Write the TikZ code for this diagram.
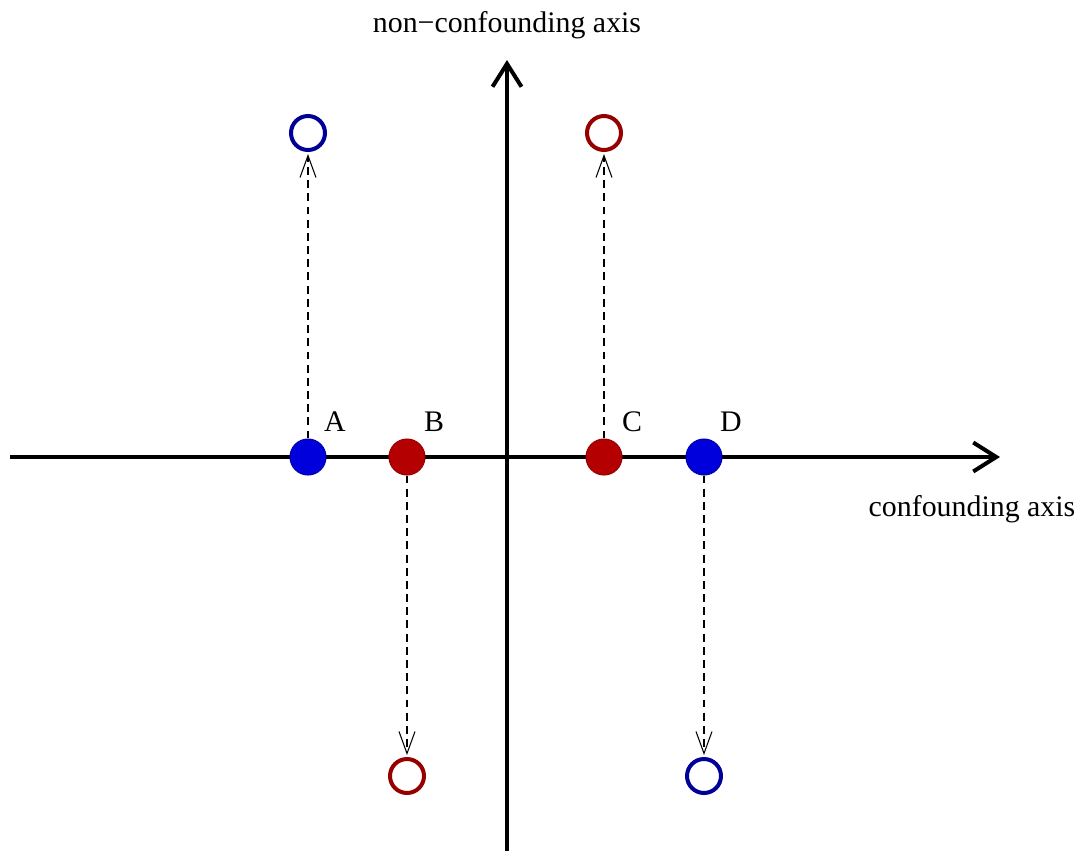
\documentclass[tikz,border=0pt]{standalone}
\usepackage{fontspec}
\setmainfont{Liberation Serif}
\usetikzlibrary{arrows.meta}
\definecolor{dotblue}{RGB}{0,0,220}
\definecolor{dotblueedge}{RGB}{0,0,170}
\definecolor{dotred}{RGB}{180,0,0}
\definecolor{dotrededge}{RGB}{150,0,0}
\definecolor{ringblue}{RGB}{0,0,150}
\definecolor{ringred}{RGB}{150,0,0}
\tikzset{
  fdot/.style={circle, minimum size=0.72cm, inner sep=0pt, line width=0.6pt},
  ring/.style={circle, minimum size=0.68cm, inner sep=0pt, line width=0.08cm, draw},
  axisline/.style={line width=0.08cm, -{Straight Barb[length=4.6mm,width=5.8mm]}},
  proj/.style={line width=0.6pt, dash pattern=on 4.5pt off 3pt, -{Straight Barb[length=4.4mm,width=3.2mm]}},
  lab/.style={font=\fontsize{17}{20}\selectfont, inner sep=0pt}
}
\begin{document}
\begin{tikzpicture}[x=0.02cm,y=-0.02cm]
\useasboundingbox (0,0) rectangle (1080,850);
% axes
\coordinate (xl) at (10,457);
\coordinate (xr) at (1000,457);
\coordinate (yb) at (507,852);
\coordinate (yt) at (507,60);
\draw[axisline] (xl) -- (xr);
\draw[axisline] (yb) -- (yt);
\node[lab] (ylab) at (507,25) {non−confounding axis};
\node[lab] (xlab) at (972,509) {confounding axis};
% rings
\node[ring, draw=ringblue] (Ar) at (308,133) {};
\node[ring, draw=ringred] (Cr) at (604,133) {};
\node[ring, draw=ringred] (Br) at (407,776) {};
\node[ring, draw=ringblue] (Dr) at (704,776) {};
% dots
\node[fdot, fill=dotblue, draw=dotblueedge] (A) at (308,457) {};
\node[fdot, fill=dotred, draw=dotrededge] (B) at (407,457) {};
\node[fdot, fill=dotred, draw=dotrededge] (C) at (604,457) {};
\node[fdot, fill=dotblue, draw=dotblueedge] (D) at (704,457) {};
% labels
\node[lab] (Al) at (335,422) {A};
\node[lab] (Bl) at (434,422) {B};
\node[lab] (Cl) at (632,422) {C};
\node[lab] (Dl) at (731,422) {D};
% projections
\draw[proj] (A.north) -- ([yshift=-0.04cm]Ar.south);
\draw[proj] (C.north) -- ([yshift=-0.04cm]Cr.south);
\draw[proj] (B.south) -- ([yshift=0.04cm]Br.north);
\draw[proj] (D.south) -- ([yshift=0.04cm]Dr.north);
\end{tikzpicture}
\end{document}
